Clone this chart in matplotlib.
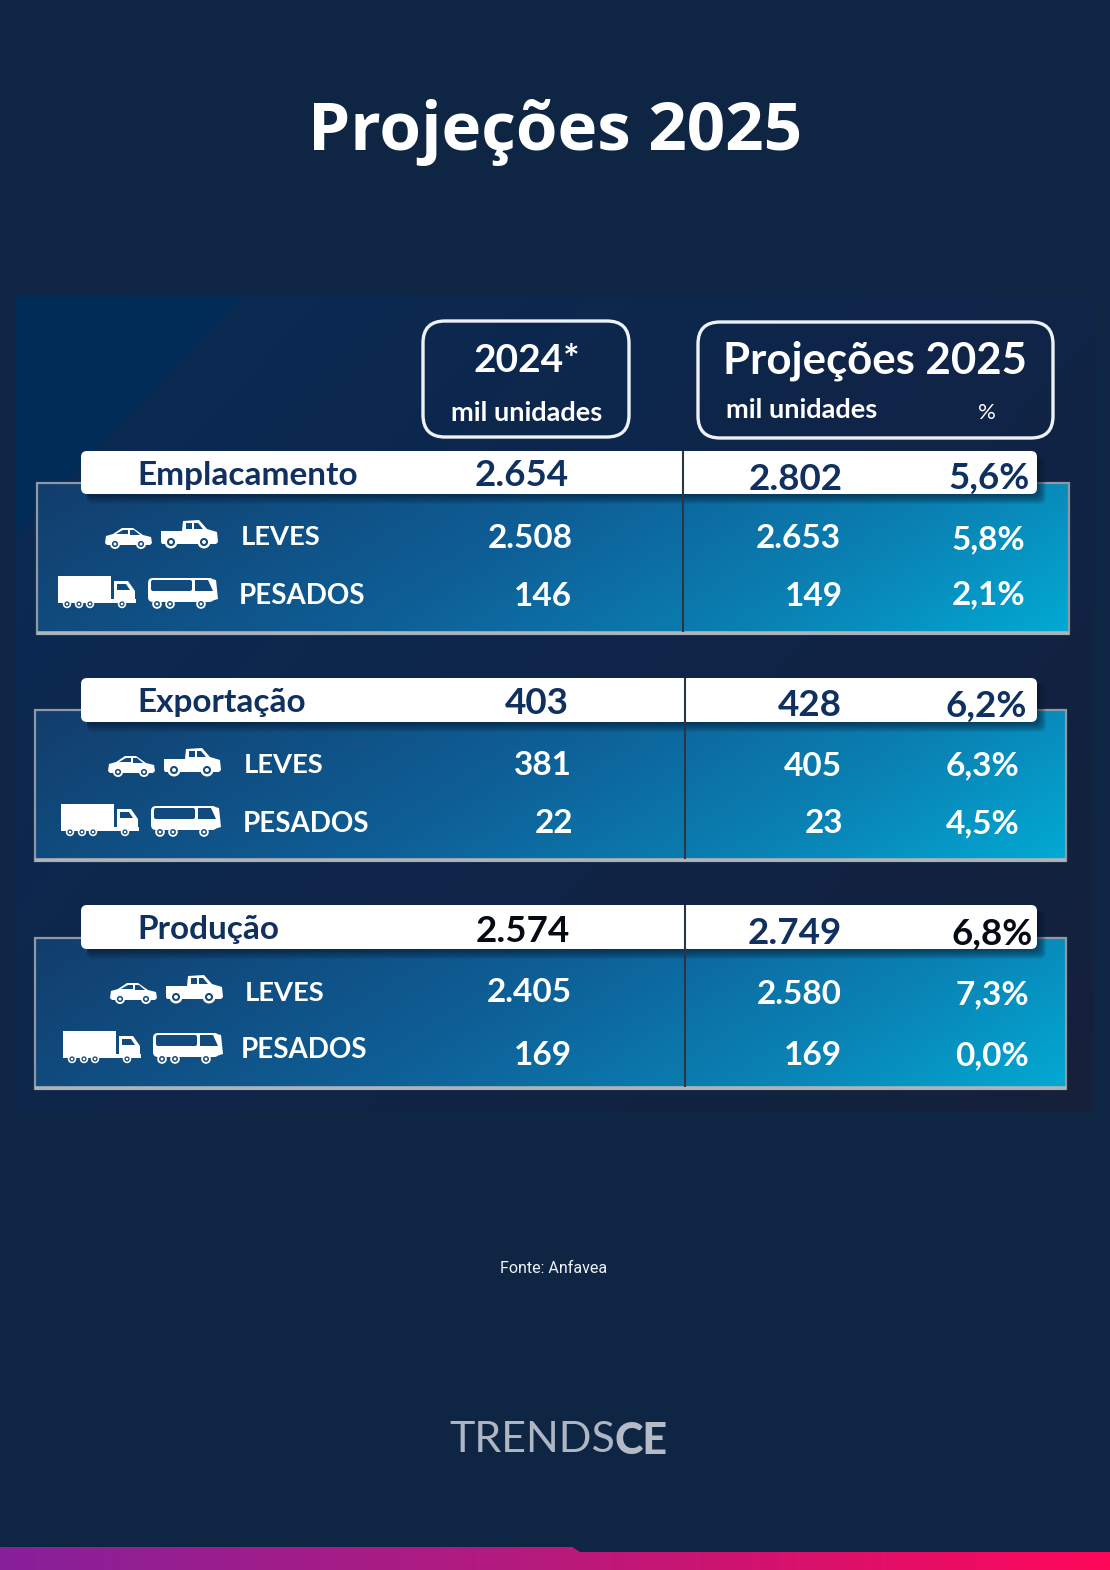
import numpy as np
import matplotlib
matplotlib.use("Agg")
import matplotlib.pyplot as plt
from matplotlib.colors import LinearSegmentedColormap
from matplotlib.patches import FancyBboxPatch, Rectangle, Polygon, Circle

# dados da tabela
secoes = ["Emplacamento", "Exportação", "Produção"]
total_2024 = ["2.654", "403", "2.574"]
total_2025 = ["2.802", "428", "2.749"]
total_pct = ["5,6%", "6,2%", "6,8%"]
leves_2024 = ["2.508", "381", "2.405"]
leves_2025 = ["2.653", "405", "2.580"]
leves_pct = ["5,8%", "6,3%", "7,3%"]
pesados_2024 = ["146", "22", "169"]
pesados_2025 = ["149", "23", "169"]
pesados_pct = ["2,1%", "4,5%", "0,0%"]

FONTE = "Lato"
BG = "#0f2544"
NAVY = "#10305f"

fig = plt.figure(figsize=(11.1, 15.7), dpi=100, facecolor=BG)
ax = fig.add_axes([0, 0, 1, 1])
ax.set_xlim(0, 1110)
ax.set_ylim(1570, 0)
ax.axis("off")


def gradiente(x0, y0, x1, y1, stops, ky=1.0, zorder=1):
    cmap = LinearSegmentedColormap.from_list("g", stops, N=512)
    xx, yy = np.meshgrid(np.linspace(0, x1 - x0, 500), np.linspace(0, y1 - y0, 400))
    t = xx + yy * ky
    t = t / t.max()
    im = ax.imshow(t, cmap=cmap, extent=(x0, x1, y1, y0), origin="upper", aspect="auto",
                   zorder=zorder, vmin=0, vmax=1, interpolation="bilinear")
    ax.set_xlim(0, 1110)
    ax.set_ylim(1570, 0)
    return im


def caixa(x0, y0, x1, y1, r, **kw):
    p = FancyBboxPatch((x0 + r, y0 + r), x1 - x0 - 2 * r, y1 - y0 - 2 * r,
                       boxstyle=f"round,pad={r},rounding_size={r}", **kw)
    ax.add_patch(p)
    return p


def txt(x, y, s, size, color="white", ha="left", weight="bold", family=FONTE, zorder=10):
    ax.text(x, y, s, fontsize=size, color=color, ha=ha, va="center_baseline",
            fontweight=weight, family=family, zorder=zorder)


def roda(x, y, r, cor):
    ax.add_patch(Circle((x, y), r, fc="white", ec="none", zorder=6))
    ax.add_patch(Circle((x, y), r * 0.62, fc=cor, ec="none", zorder=7))
    ax.add_patch(Circle((x, y), r * 0.3, fc="white", ec="none", zorder=8))


def carro(x, y, cor):
    # x, y = canto inferior esquerdo, 47 x 20 px
    pts = [(0, 15), (1, 8), (8, 6), (17, 0), (28, 0), (38, 7), (46, 9), (47, 15), (45, 17), (2, 17)]
    ax.add_patch(Polygon([(x + a, y - 20 + b) for a, b in pts], fc="white", ec="none", zorder=5))
    ax.add_patch(Polygon([(x + a, y - 20 + b) for a, b in [(11, 6), (18, 2), (23, 2), (23, 6)]], fc=cor, zorder=6))
    ax.add_patch(Polygon([(x + a, y - 20 + b) for a, b in [(25, 2), (29, 2), (35, 7), (25, 7)]], fc=cor, zorder=6))
    roda(x + 10, y - 4, 5, cor)
    roda(x + 36, y - 4, 5, cor)


def pickup(x, y, cor):
    # 57 x 28 px
    pts = [(0, 11), (21, 11), (22, 1), (38, 0), (46, 9), (56, 12), (57, 22), (55, 24), (1, 24), (0, 22)]
    ax.add_patch(Polygon([(x + a, y - 28 + b) for a, b in pts], fc="white", ec="none", zorder=5))
    ax.add_patch(Rectangle((x + 25, y - 25), 6, 6, fc=cor, ec="none", zorder=6))
    ax.add_patch(Polygon([(x + a, y - 28 + b) for a, b in [(33, 3), (37, 3), (42, 9), (33, 9)]], fc=cor, zorder=6))
    roda(x + 10, y - 6, 6.5, cor)
    roda(x + 43, y - 6, 6.5, cor)


def caminhao(x, y, cor):
    # 78 x 32 px
    ax.add_patch(Rectangle((x, y - 32), 53, 23, fc="white", ec="none", zorder=5))
    ax.add_patch(Rectangle((x, y - 9), 78, 4, fc="white", ec="none", zorder=5))
    pts = [(56, 25), (56, 5), (70, 5), (77, 15), (77, 25)]
    ax.add_patch(Polygon([(x + a, y - 32 + b) for a, b in pts], fc="white", ec="none", zorder=5))
    ax.add_patch(Polygon([(x + a, y - 32 + b) for a, b in [(59, 8), (68, 8), (72, 14), (59, 14)]], fc=cor, zorder=6))
    for c in (9, 21, 32, 64):
        roda(x + c, y - 4, 4.2, cor)


def onibus(x, y, cor):
    # 72 x 31 px
    caixa(x, y - 30, x + 66, y - 6, 5, fc="white", ec="none", zorder=5)
    ax.add_patch(Polygon([(x + a, y - 31 + b) for a, b in [(60, 1), (68, 3), (70, 22), (60, 25)]], fc="white", ec="none", zorder=5))
    caixa(x + 3, y - 28, x + 44, y - 17, 2, fc=cor, ec="none", zorder=6)
    ax.add_patch(Polygon([(x + a, y - 31 + b) for a, b in [(47, 3), (60, 3), (65, 14), (47, 14)]], fc=cor, zorder=6))
    for c in (9, 22, 53):
        roda(x + c, y - 4, 4.8, cor)


# faixa inferior
faixa = gradiente(0, 1547, 1110, 1570, ["#87209a", "#b81a7c", "#ff0759"], ky=0)
clip = Polygon([(0, 1547), (572, 1547), (580, 1552), (1110, 1552), (1110, 1570), (0, 1570)], transform=ax.transData)
faixa.set_clip_path(clip)

# titulo
txt(555, 125, "Projeções 2025", 48.5, ha="center", family="Open Sans")

# painel de fundo
gradiente(16, 296, 1093, 1112,
          [(0, "#002c59"), (0.118, "#012c57"), (0.124, "#0b2a52"), (0.5, "#0f2549"), (0.85, "#12223f"), (1, "#16203a")],
          ky=0.94)

# cabecalhos
caixa(423, 321, 629, 437, 22, fc="none", ec="#eef2f7", lw=2.4, zorder=4)
caixa(698, 322, 1053, 438, 22, fc="none", ec="#eef2f7", lw=2.4, zorder=4)
txt(527, 357, "2024*", 28, ha="center")
txt(875, 357, "Projeções 2025", 31.5, ha="center")
txt(527, 411, "mil unidades", 19.5, ha="center")
txt(802, 408, "mil unidades", 19.5, ha="center")
txt(987, 411, "%", 16, ha="center", weight="regular")

# posicoes de cada bloco (px)
blocos = [
    dict(bar=(81, 451, 1037, 494), box=(37, 483, 1069, 634), div=683, rot=(137, 473),
         ytot=(473, 476, 475), rtot=(569, 843, 1030), yl=535, yp=594, xl=241, xp=239,
         rl=(573, 841, 1025), rp=(572, 843, 1025), ylv=(536, 536, 537), ypv=(594, 594, 592), dx=0, dy=0,
         cor_tot=(NAVY, NAVY, NAVY)),
    dict(bar=(81, 678, 1037, 722), box=(35, 710, 1066, 861), div=685, rot=(137, 700),
         ytot=(700, 703, 703), rtot=(569, 842, 1027), yl=763, yp=821, xl=244, xp=243,
         rl=(572, 842, 1019), rp=(573, 843, 1020), ylv=(763, 764, 763), ypv=(821, 821, 821), dx=3, dy=228,
         cor_tot=(NAVY, NAVY, NAVY)),
    dict(bar=(81, 905, 1037, 949), box=(35, 938, 1066, 1089), div=685, rot=(137, 927),
         ytot=(929, 931, 931), rtot=(570, 842, 1033), yl=991, yp=1048, xl=245, xp=241,
         rl=(572, 842, 1029), rp=(572, 842, 1029), ylv=(990, 992, 992), ypv=(1053, 1053, 1053), dx=5, dy=455,
         cor_tot=("#050a14", NAVY, "#050a14")),
]

for i, b in enumerate(blocos):
    x0, y0, x1, y1 = b["box"]
    gradiente(x0, y0, x1, y1, [(0, "#123d6c"), (0.45, "#0e5f97"), (0.75, "#0a82b4"), (1, "#02aad4")], ky=1.6, zorder=2)
    ax.add_patch(Rectangle((x0, y0), x1 - x0, y1 - y0, fc="none", ec="#8f99a6", lw=1.6, zorder=3))
    ax.plot([x0, x1], [y1 - 1, y1 - 1], color="#aeb4ba", lw=2.6, zorder=3, solid_capstyle="butt")

    bx0, by0, bx1, by1 = b["bar"]
    # sombra da barra branca
    for k in range(1, 10):
        caixa(bx0 + 6, by0 + 6, bx1 + k * 1.0, by1 + k * 1.1, 6, fc="#06182f", ec="none", alpha=0.09, zorder=3.5)
    caixa(bx0, by0, bx1, by1, 6, fc="white", ec="none", zorder=4)
    ax.plot([b["div"], b["div"]], [by0, y1 - 2], color="#2b3642", lw=1.5, zorder=5, solid_capstyle="butt")

    txt(b["rot"][0], b["rot"][1], secoes[i], 24, color=NAVY)
    txt(b["rtot"][0], b["ytot"][0], total_2024[i], 26.5, color=b["cor_tot"][0], ha="right")
    txt(b["rtot"][1], b["ytot"][1], total_2025[i], 26.5, color=b["cor_tot"][1], ha="right")
    txt(b["rtot"][2], b["ytot"][2], total_pct[i], 26.5, color=b["cor_tot"][2], ha="right")

    txt(b["xl"], b["yl"], "LEVES", 19.7, weight="bold")
    txt(b["xp"], b["yp"], "PESADOS", 20, weight="bold")
    txt(b["rl"][0], b["ylv"][0], leves_2024[i], 24, ha="right")
    txt(b["rl"][1], b["ylv"][1], leves_2025[i], 24, ha="right")
    txt(b["rl"][2], b["ylv"][2], leves_pct[i], 24, ha="right")
    txt(b["rp"][0], b["ypv"][0], pesados_2024[i], 24, ha="right")
    txt(b["rp"][1], b["ypv"][1], pesados_2025[i], 24, ha="right")
    txt(b["rp"][2], b["ypv"][2], pesados_pct[i], 24, ha="right")

    dx, dy = b["dx"], b["dy"]
    carro(105 + dx, 548 + dy, "#124a7e")
    pickup(161 + dx, 548 + dy, "#124a7e")
    caminhao(58 + dx, 608 + dy, "#124a7e")
    onibus(148 + dx, 608 + dy, "#124a7e")

# rodape
txt(554, 1267, "Fonte: Anfavea", 11.5, ha="center", weight="regular", family="Roboto", color="#f2f4f7")
txt(449, 1437, "TRENDS", 31, ha="left", weight="regular", color="#aeb6c2")
txt(667, 1437, "CE", 31, ha="right", weight="black", color="#b4bbc6")

fig.savefig("out.png", dpi=100, facecolor=BG)
